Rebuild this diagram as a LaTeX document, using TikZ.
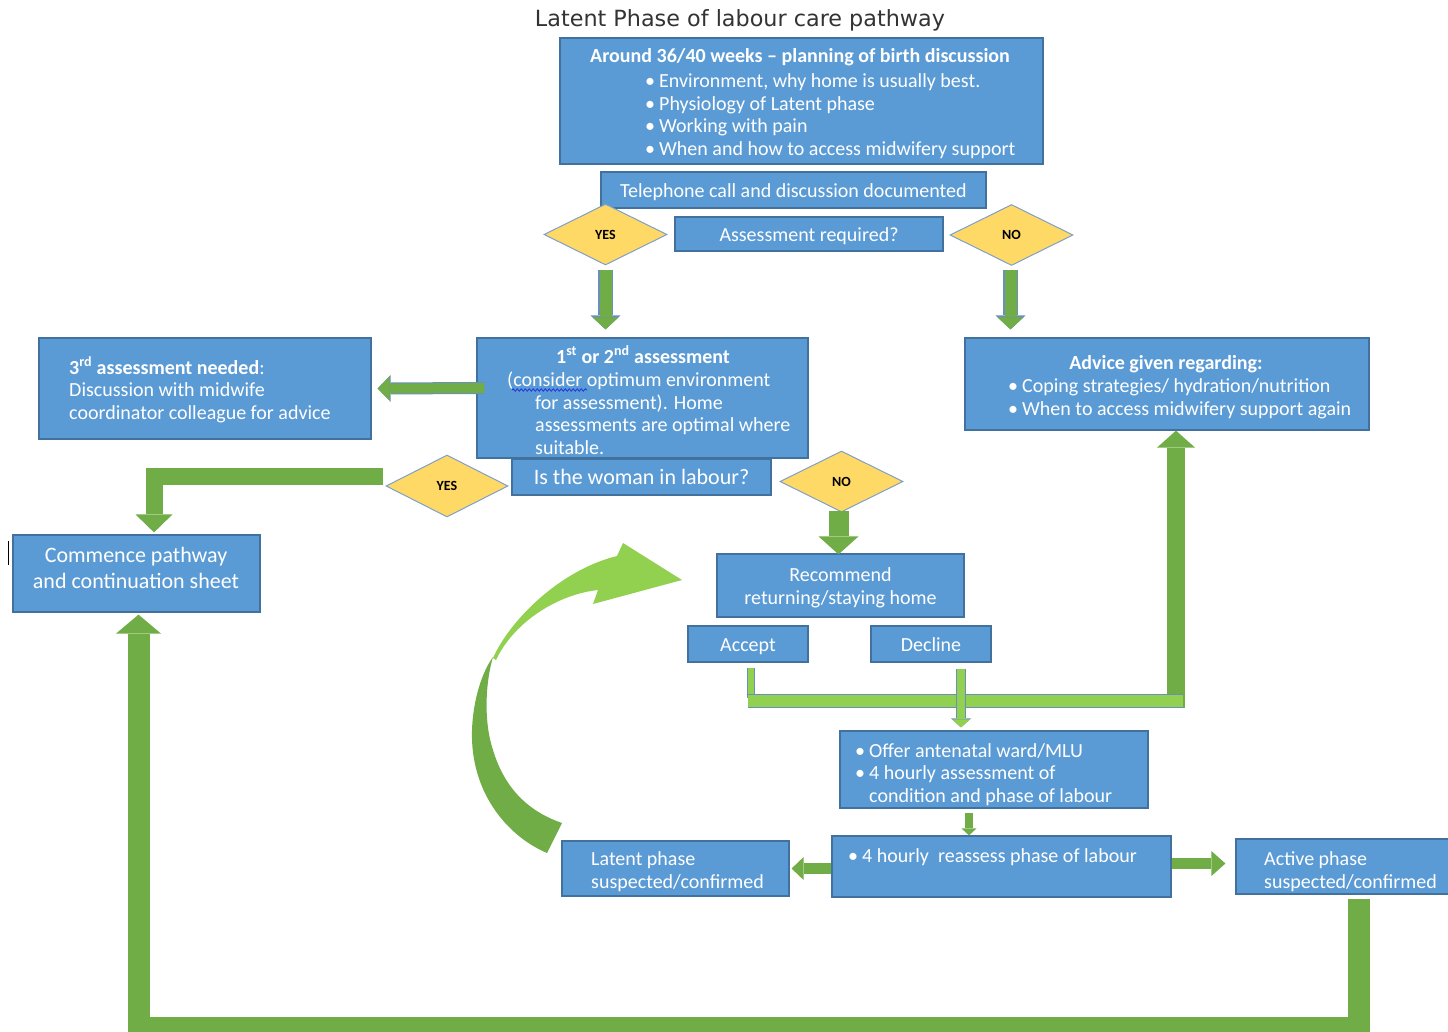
\documentclass[tikz,border=0pt]{standalone}
\usepackage{fontspec}
\setmainfont{Carlito}
\newfontfamily\titlefont{DejaVu Sans}
\usetikzlibrary{arrows.meta,positioning,shapes.geometric,calc,decorations.pathmorphing}
\definecolor{boxblue}{HTML}{5B9BD5}
\definecolor{boxedge}{HTML}{41719C}
\definecolor{gold}{HTML}{FFD966}
\definecolor{goldedge}{HTML}{7F9FC8}
\definecolor{leaf}{HTML}{70AD47}
\definecolor{lime}{HTML}{92D050}
\definecolor{rimblue}{HTML}{6A8FBF}
\definecolor{squiggle}{HTML}{2233DD}
\newcommand{\boxfont}{\fontsize{20}{22.5}\selectfont}
\newcommand{\largefont}{\fontsize{22}{26}\selectfont}
\newcommand{\blt}{\makebox[14pt][l]{\textbullet}}

\begin{document}
\begin{tikzpicture}[x=1pt, y=-1pt,
  box/.style={draw=boxedge, line width=1.2pt, fill=boxblue, text=white,
              font=\boxfont, align=center, inner sep=0pt},
  oneline/.style={text height=17pt, text depth=3pt},
  dims/.style 2 args={minimum width=#1pt, minimum height=#2pt},
  txt/.style={text=white, font=\boxfont, align=left, inner sep=0pt, anchor=base west},
  choice/.style={diamond, draw=goldedge, line width=1pt, fill=gold, inner sep=0pt,
                 font=\fontsize{14}{16}\selectfont\bfseries},
  flow/.style n args={3}{draw=leaf, line width=#1pt,
              -{Triangle[width=#2pt, length=#3pt, line width=0pt]}},
  lite/.style n args={3}{draw=lime, line width=#1pt,
              -{Triangle[width=#2pt, length=#3pt, line width=0pt]}},
  rim/.style n args={3}{preaction={draw=rimblue, line width=#1pt,
              -{Triangle[width=#2pt, length=#3pt, line width=0pt]}}},
  bar/.style={draw=lime, line width=#1pt},
  barrim/.style={preaction={draw=rimblue, line width=#1pt}}
]
  \useasboundingbox (0,0) rectangle (1448,1031);

  \node[font=\titlefont\fontsize{22.3}{25}\selectfont, text=black!80, anchor=base]
    (title) at (740,26) {Latent Phase of labour care pathway};

  % planning stage (multi-line texts are placed by their last baseline)
  \node[box, dims={483}{126}] (plan) at (801.5,101) {};
  \node[txt, anchor=base, font=\boxfont\bfseries] (plan-head) at (800,62)
    {Around 36/40 weeks – planning of birth discussion};
  \node[txt] (plan-list) at (645,155)
    {\blt Environment, why home is usually best.\\
     \blt Physiology of Latent phase\\
     \blt Working with pain\\
     \blt When and how to access midwifery support};

  \node[box, oneline, dims={385}{36}] (phone) at (793.5,190) {Telephone call and discussion documented};
  \node[box, oneline, dims={268}{34}] (need) at (809,234) {Assessment required?};
  \node[choice, dims={123}{61}] (yes1) at (605.5,234.5) {YES};
  \node[choice, dims={123}{61}] (no1) at (1011.5,235) {NO};

  % assessment
  \node[box, dims={331}{120}] (first) at (642.5,398) {};
  \node[txt, anchor=base, font=\boxfont\bfseries] (first-head) at (643,363)
    {1\textsuperscript{st} or 2\textsuperscript{nd} assessment};
  \node[txt] (first-body) at (507,454)
    {(consider optimum environment\\
     \hspace*{28pt}for assessment). Home\\
     \hspace*{28pt}assessments are optimal where\\
     \hspace*{28pt}suitable.};
  \draw[squiggle, line width=0.8pt, decorate,
        decoration={snake, amplitude=1.2pt, segment length=4pt}] (512,390) -- (587,390);

  \node[box, dims={332}{101}] (third) at (205,388.5) {};
  \node[txt] (third-txt) at (69,419)
    {\textbf{3\textsuperscript{rd} assessment needed}:\\
     Discussion with midwife\\
     coordinator colleague for advice};

  \node[box, dims={404}{92}] (advice) at (1167,384) {};
  \node[txt, anchor=base, font=\boxfont\bfseries] (advice-head) at (1166,369)
    {Advice given regarding:};
  \node[txt] (advice-list) at (1008,415)
    {\blt Coping strategies/ hydration/nutrition\\
     \blt When to access midwifery support again};

  \node[box, oneline, dims={259}{36}, font=\largefont] (labour) at (641.5,477) {Is the woman in labour?};
  \node[choice, dims={122}{62}] (yes2) at (447,486) {YES};
  \node[choice, dims={123}{61}] (no2) at (841.5,481.5) {NO};

  \node[box, dims={247}{77}] (commence) at (136.5,573.5) {};
  \node[txt, anchor=base, align=center, font=\largefont] (commence-txt) at (136,588)
    {Commence pathway\\and continuation sheet};
  \draw[line width=1.5pt] (8.5,541) -- (8.5,565);

  % not in labour
  \node[box, dims={247}{63}] (recommend) at (840.5,585.5) {};
  \node[txt, anchor=base, align=center] (recommend-txt) at (840.5,604)
    {Recommend\\returning/staying home};
  \node[box, oneline, dims={120}{36}] (accept) at (748,644) {Accept};
  \node[box, oneline, dims={120}{36}] (decline) at (931,644) {Decline};

  \node[box, dims={308}{77}] (offer) at (994,769.5) {};
  \node[txt] (offer-list) at (855,802)
    {\blt Offer antenatal ward/MLU\\
     \blt 4 hourly assessment of\\
     \hspace*{14pt}condition and phase of labour};

  \node[box, dims={339}{61}] (reassess) at (1001.5,866.5) {};
  \node[txt] (reassess-txt) at (848,862) {\blt 4 hourly\ \ reassess phase of labour};

  \node[box, dims={227}{55}] (latent) at (675.5,868.5) {};
  \node[txt] (latent-txt) at (591,888) {Latent phase\\suspected/confirmed};
  \node[box, dims={214}{55}] (active) at (1343,866.5) {};
  \node[txt] (active-txt) at (1264,888) {Active phase\\suspected/confirmed};

  \coordinate (rise) at (1176,708);
  \coordinate (bar-west) at (748,701);
  \coordinate (bar-east) at (1183,701);
  \coordinate (accept-foot) at (751,698);
  \coordinate (loop-base) at (700,1028);

  % connectors
  \draw[rim={15}{30}{14}, flow={12}{26}{12}] ($(yes1.south)+(0,4)$) -- ($(yes1.south |- first.north)+(0,-8)$);
  \draw[rim={15}{30}{14}, flow={12}{26}{12}] ($(no1.south)+(-1,4)$) -- ($(no1.south |- advice.north)+(-1,-8)$);
  \draw[rim={12}{27}{13}, flow={10}{24}{12}] ($(first.west)+(8,-10)$) -- ($(third.east)+(6,0)$);
  \draw[flow={17}{37}{18}] ($(yes2.west)+(-3,-9.5)$) -| ($(commence.north)+(17.5,-2)$);
  \draw[flow={20}{40}{18}] ($(no2.south)+(-3,-2)$) -- ($(no2.south |- recommend.north)+(-3,1)$);

  \draw[flow={18}{38}{17}] (rise) -- (rise |- advice.south);
  \draw[barrim=8, bar=6] ($(accept.south)+(3,5)$) -- (accept-foot);
  \draw[barrim=14, bar=12] (bar-west) -- (bar-east);
  \draw[rim={10}{20}{9}, lite={8}{18}{8}] ($(decline.south)+(30,6)$) -- ($(decline.south |- offer.north)+(30,-3)$);

  \draw[flow={8}{15}{7}] ($(offer.south)+(-25,4)$) -- ($(offer.south |- reassess.north)+(-25,0)$);
  \draw[flow={11}{23}{12}] ($(reassess.west)+(0,2)$) -- ($(latent.east |- reassess.west)+(2,2)$);
  \draw[flow={11}{25}{14}] ($(reassess.east)+(0,-3)$) -- ($(active.west |- reassess.east)+(-10,-3)$);
  \draw[flow={22}{45}{19}] ($(active.south)+(16,4)$) |- (loop-base) -| ($(commence.south)+(2,2)$);

  % curved return arrow
  \fill[leaf] (547,853) .. controls (505,835) and (470,790) .. (472,730)
    .. controls (473,700) and (482,672) .. (493,657)
    .. controls (486,680) and (483,720) .. (493,750)
    .. controls (505,790) and (530,812) .. (562,823) -- cycle;
  \fill[lime] (493,658) .. controls (510,620) and (560,570) .. (617,556)
    -- (623,543) -- (682,580) -- (593,604) -- (598,590)
    .. controls (560,594) and (515,620) .. (496,660) -- cycle;
\end{tikzpicture}
\end{document}
